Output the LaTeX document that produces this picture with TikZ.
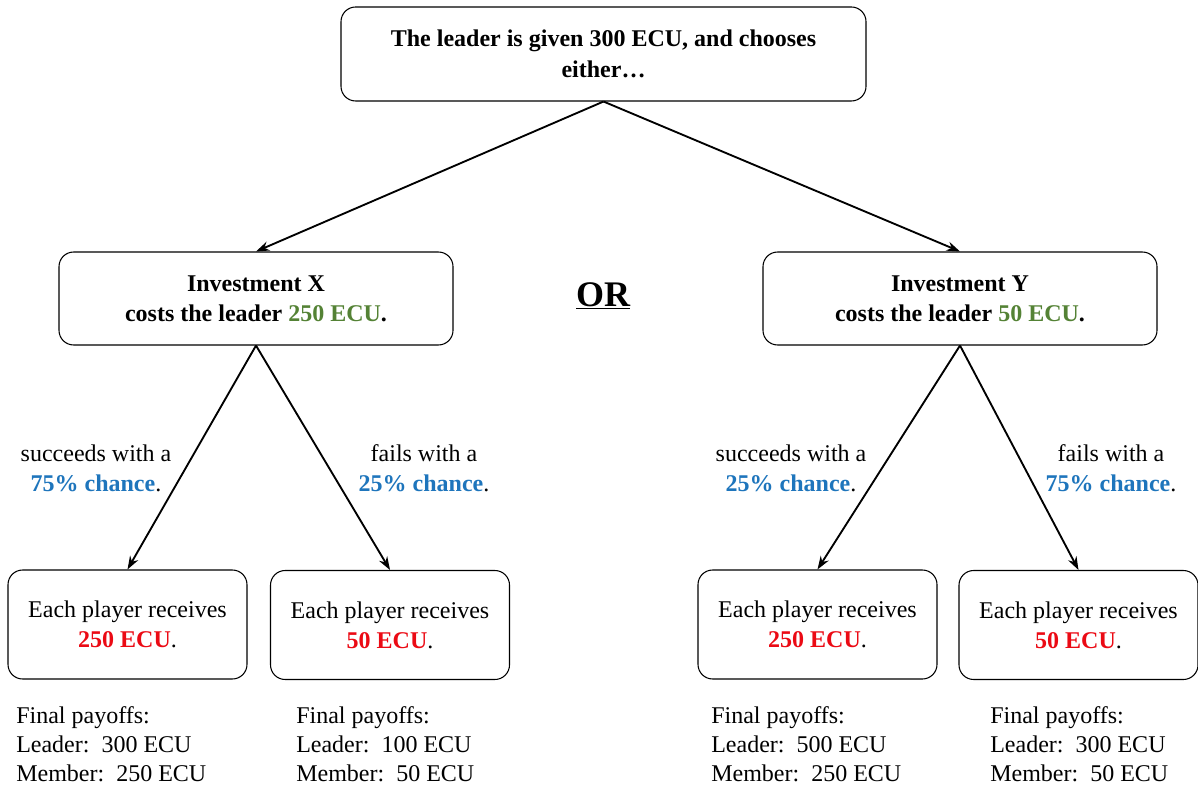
\documentclass[tikz,border=0pt]{standalone}
\usepackage{fontspec}
\setmainfont{Liberation Serif}
\usetikzlibrary{arrows.meta}
\definecolor{cgreen}{RGB}{84,130,53}
\definecolor{cblue}{RGB}{30,117,188}
\definecolor{cred}{RGB}{235,10,20}
\begin{document}
\begin{tikzpicture}[x=0.75pt,y=-0.75pt,
  font=\fontsize{18}{22.5}\selectfont,
  box/.style={draw, rounded corners=11pt, line width=0.8pt, align=center, inner sep=0pt},
  topbox/.style={box, minimum width=393.75pt, minimum height=70.5pt, font=\bfseries\fontsize{18}{23}\selectfont},
  invbox/.style={box, minimum width=295.5pt, minimum height=69.75pt, font=\bfseries\fontsize{18}{22.5}\selectfont},
  leafbox/.style={box, minimum width=179.25pt, minimum height=81.75pt},
  prob/.style={align=center, inner sep=0pt},
  payoff/.style={anchor=base west, align=left, inner sep=0pt, font=\fontsize{18}{21.75}\selectfont},
  arr/.style={-{Stealth[length=10pt,width=7pt]}, line width=1.4pt}]
\useasboundingbox (0,0) rectangle (1198,787);

\node[topbox] (top) at (603.5,54) {The leader is given 300 ECU, and chooses\\either\ldots};
\node[invbox] (X) at (256,298.5) {Investment X\\costs the leader \textcolor{cgreen}{250 ECU}.};
\node[invbox] (Y) at (960,298.5) {Investment Y\\costs the leader \textcolor{cgreen}{50 ECU}.};
\node[font=\bfseries\fontsize{27}{30}\selectfont, inner sep=0pt] (or) at (603,296) {\underline{OR}};

\node[leafbox] (b1) at (127.5,624.5) {Each player receives\\\textcolor{cred}{\textbf{250 ECU}}.};
\node[leafbox] (b2) at (390,625) {Each player receives\\\textcolor{cred}{\textbf{50 ECU}}.};
\node[leafbox] (b3) at (817.5,624.5) {Each player receives\\\textcolor{cred}{\textbf{250 ECU}}.};
\node[leafbox] (b4) at (1078.5,625) {Each player receives\\\textcolor{cred}{\textbf{50 ECU}}.};

\node[prob] (p1) at (96,468) {succeeds with a\\\textcolor{cblue}{\textbf{75\% chance}}.};
\node[prob] (p2) at (424,468) {fails with a\\\textcolor{cblue}{\textbf{25\% chance}}.};
\node[prob] (p3) at (791,468) {succeeds with a\\\textcolor{cblue}{\textbf{25\% chance}}.};
\node[prob] (p4) at (1111,468) {fails with a\\\textcolor{cblue}{\textbf{75\% chance}}.};

\node[payoff] (f1) at (16,781) {Final payoffs:\\Leader:\ \ 300 ECU\\Member:\ \ 250 ECU};
\node[payoff] (f2) at (296,781) {Final payoffs:\\Leader:\ \ 100 ECU\\Member:\ \ 50 ECU};
\node[payoff] (f3) at (711,781) {Final payoffs:\\Leader:\ \ 500 ECU\\Member:\ \ 250 ECU};
\node[payoff] (f4) at (990,781) {Final payoffs:\\Leader:\ \ 300 ECU\\Member:\ \ 50 ECU};

\draw[arr] (top.south) -- (X.north);
\draw[arr] (top.south) -- (Y.north);
\draw[arr] (X.south) -- (b1.north);
\draw[arr] (X.south) -- (b2.north);
\draw[arr] (Y.south) -- (b3.north);
\draw[arr] (Y.south) -- (b4.north);
\end{tikzpicture}
\end{document}
